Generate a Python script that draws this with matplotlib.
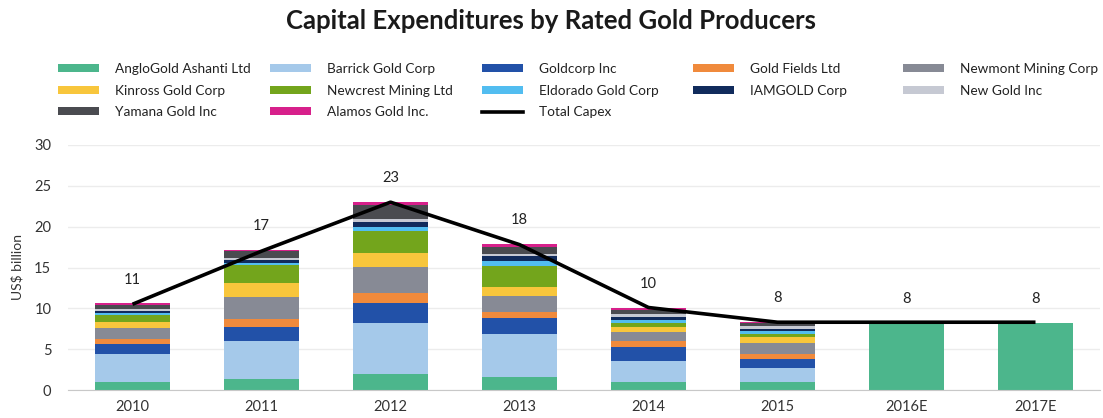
import numpy as np
import matplotlib
matplotlib.use("Agg")
import matplotlib.pyplot as plt
from matplotlib.patches import Patch
from matplotlib.lines import Line2D

plt.rcParams['font.family'] = ['Lato', 'DejaVu Sans']

years = ['2010', '2011', '2012', '2013', '2014', '2015', '2016E', '2017E']

companies = ['AngloGold Ashanti Ltd', 'Barrick Gold Corp', 'Goldcorp Inc',
             'Gold Fields Ltd', 'Newmont Mining Corp', 'Kinross Gold Corp',
             'Newcrest Mining Ltd', 'Eldorado Gold Corp', 'IAMGOLD Corp',
             'New Gold Inc', 'Yamana Gold Inc', 'Alamos Gold Inc.']

# capex by company, US$ billion (2016E/2017E only as a single total, drawn in the first colour)
anglogold = [1.0, 1.4, 2.0, 1.6, 1.0, 0.95, 8.25, 8.25]
barrick = [3.4, 4.6, 6.25, 5.2, 2.55, 1.7, 0, 0]
goldcorp = [1.2, 1.7, 2.45, 2.05, 1.75, 1.1, 0, 0]
gold_fields = [0.65, 1.0, 1.2, 0.75, 0.7, 0.65, 0, 0]
newmont = [1.3, 2.7, 3.2, 1.9, 1.05, 1.3, 0, 0]
kinross = [0.75, 1.7, 1.7, 1.15, 0.7, 0.75, 0, 0]
newcrest = [0.9, 2.2, 2.7, 2.55, 0.5, 0.4, 0, 0]
eldorado = [0.25, 0.2, 0.5, 0.6, 0.3, 0.35, 0, 0]
iamgold = [0.25, 0.4, 0.6, 0.65, 0.35, 0.3, 0, 0]
new_gold = [0.2, 0.3, 0.4, 0.25, 0.35, 0.35, 0, 0]
yamana = [0.5, 0.8, 1.65, 0.85, 0.55, 0.3, 0, 0]
alamos = [0.2, 0.2, 0.4, 0.35, 0.3, 0.2, 0, 0]

total_capex = [10.5, 17.0, 23.0, 17.8, 10.1, 8.3, 8.3, 8.3]
total_labels = ['11', '17', '23', '18', '10', '8', '8', '8']

series = [anglogold, barrick, goldcorp, gold_fields, newmont, kinross,
          newcrest, eldorado, iamgold, new_gold, yamana, alamos]

colors = ['#4cb68c', '#a5c9ea', '#2251a8', '#f08a3c', '#878a95', '#f8c63c',
          '#73a51c', '#52bdf0', '#112b5c', '#c6c9d3', '#4a4b50', '#d7208b']

fig = plt.figure(figsize=(11.03, 4.18), dpi=100)
ax = fig.add_axes([68 / 1103, 1 - 390 / 418, 1032 / 1103, 245 / 418])

x = np.arange(len(years))
bottom = np.zeros(len(years))
for vals, col in zip(series, colors):
    vals = np.array(vals)
    ax.bar(x, vals, bottom=bottom, width=0.575, color=col, linewidth=0, zorder=2)
    bottom += vals

ax.plot(x, total_capex, color='black', lw=2.6, zorder=3, solid_capstyle='butt')

for xi, top, lab in zip(x, bottom, total_labels):
    ax.annotate(lab, (xi, top), xytext=(0, 12), textcoords='offset points',
                ha='center', va='bottom', fontsize=10.5, color='#222222')

ax.set_xlim(-0.5, 7.5)
ax.set_ylim(0, 30)
ax.set_yticks([0, 5, 10, 15, 20, 25, 30])
ax.set_xticks(x)
ax.set_xticklabels(years)
ax.grid(axis='y', color='#ececec', lw=1, zorder=0)
ax.set_axisbelow(True)
for s in ['top', 'right', 'left']:
    ax.spines[s].set_visible(False)
ax.spines['bottom'].set_color('#c8c8c8')
ax.tick_params(axis='both', length=0, labelsize=10.5, colors='#333333')
ax.tick_params(axis='y', pad=12)
ax.tick_params(axis='x', pad=7)
ax.set_ylabel('US$ billion', fontsize=10, color='#333333', labelpad=8)

fig.text(0.5, 0.95, 'Capital Expenditures by Rated Gold Producers',
         ha='center', va='center', fontsize=18.5, fontweight='bold', color='#1a1a1a')

# legend laid out row-wise in 5 fixed-width columns
handles = [Patch(facecolor=c, edgecolor='none') for c in colors]
handles.append(Line2D([], [], color='black', lw=2.6))
labels = companies + ['Total Capex']
col_x = [58, 270, 482, 693, 903]
for c in range(5):
    idx = list(range(c, len(labels), 5))
    leg = fig.legend([handles[i] for i in idx], [labels[i] for i in idx],
                     loc='upper left', bbox_to_anchor=(col_x[c] / 1103, 1 - 63 / 418),
                     frameon=False, fontsize=9.8, borderpad=0, borderaxespad=0,
                     handlelength=3.0, handleheight=0.5, handletextpad=1.2,
                     labelspacing=0.7)
    for t in leg.get_texts():
        t.set_color('#222222')

fig.savefig('out.png', dpi=100)
